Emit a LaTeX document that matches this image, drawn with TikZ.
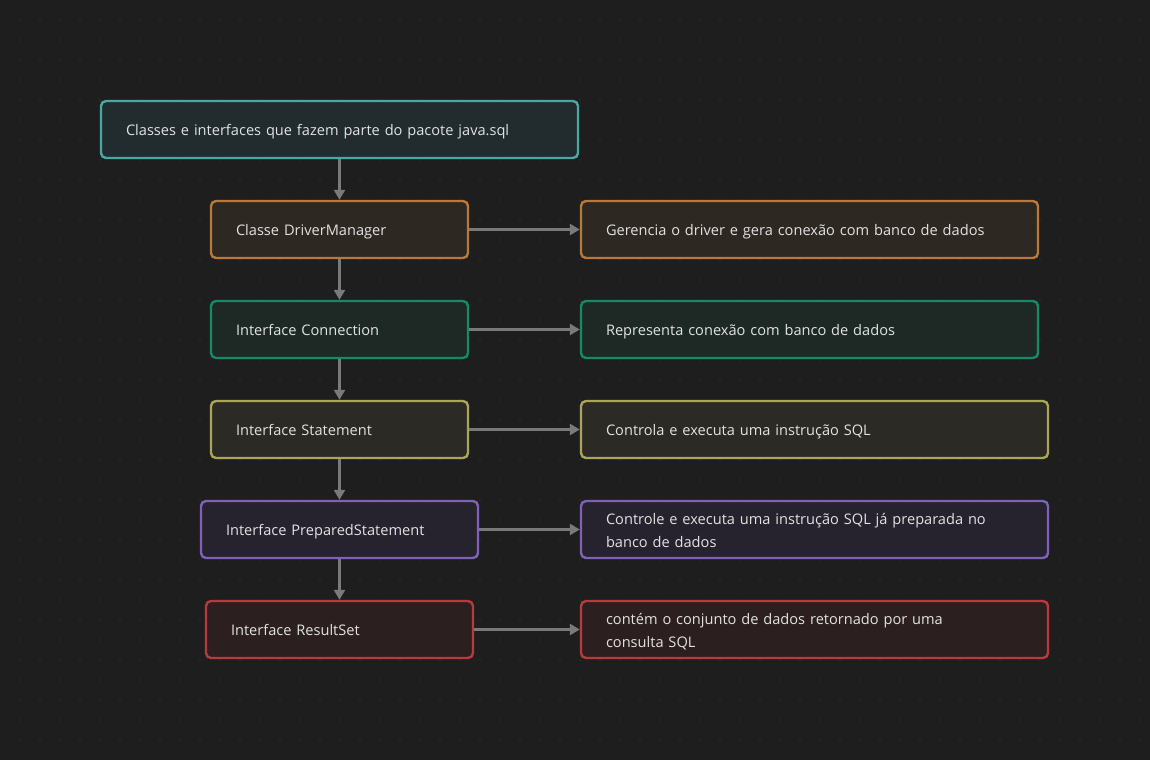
\documentclass[tikz,border=0pt]{standalone}
\usepackage{fontspec}
\setmainfont{Open Sans}
\usetikzlibrary{arrows.meta}

\definecolor{bg}{HTML}{1E1E1E}
\definecolor{griddot}{HTML}{303030}
\definecolor{txt}{HTML}{E2E2E2}
\definecolor{linkgray}{HTML}{7A7A7A}
\definecolor{tealB}{HTML}{4AA7A3}
\definecolor{tealF}{HTML}{222B2D}
\definecolor{orangeB}{HTML}{B87A3A}
\definecolor{orangeF}{HTML}{2D2822}
\definecolor{greenB}{HTML}{168A66}
\definecolor{greenF}{HTML}{1E2925}
\definecolor{oliveB}{HTML}{A9A65A}
\definecolor{oliveF}{HTML}{2B2A24}
\definecolor{purpleB}{HTML}{7F62B8}
\definecolor{purpleF}{HTML}{26232E}
\definecolor{redB}{HTML}{B83A3C}
\definecolor{redF}{HTML}{2C1F20}

\begin{document}
\begin{tikzpicture}[x=1pt,y=-1pt]
        \tikzstyle{box}=[line width=2.4pt, rounded corners=5pt, minimum height=57pt, inner xsep=25pt, inner ysep=0pt, align=left, text=txt, font=\fontsize{14.6}{23}\selectfont, text height=16pt, text depth=4pt]
        \tikzstyle{twolines}=[text depth=26pt]
        \tikzstyle{link}=[line width=2.4pt, draw=linkgray, -{Triangle[length=10pt,width=11pt]}]

        % background with dot grid
        \fill[bg] (0,0) rectangle (1150,760);
        \useasboundingbox (0,0) rectangle (1150,760);
        \foreach \x in {20,40,...,1140}
            \foreach \y in {20,40,...,740}
                \fill[griddot] (\x,\y) circle (0.9pt);

        % left column
        \node (pkg)[box, draw=tealB, fill=tealF, text width=427pt] at (339.5,129.5) {Classes e interfaces que fazem parte do pacote java.sql};
        \node (dm)[box, draw=orangeB, fill=orangeF, text width=207pt] at (339.5,229.5) {Classe DriverManager};
        \node (conn)[box, draw=greenB, fill=greenF, text width=207pt] at (339.5,329.5) {Interface Connection};
        \node (stmt)[box, draw=oliveB, fill=oliveF, text width=207pt] at (339.5,429.5) {Interface Statement};
        \node (pstmt)[box, draw=purpleB, fill=purpleF, text width=227pt] at (339.5,529.5) {Interface PreparedStatement};
        \node (rs)[box, draw=redB, fill=redF, text width=217pt] at (339.5,629.5) {Interface ResultSet};

        % right column
        \node (dmd)[box, draw=orangeB, fill=orangeF, text width=407pt] at (809.5,229.5) {Gerencia o driver e gera conexão com banco de dados};
        \node (connd)[box, draw=greenB, fill=greenF, text width=407pt] at (809.5,329.5) {Representa conexão com banco de dados};
        \node (stmtd)[box, draw=oliveB, fill=oliveF, text width=417pt] at (814.5,429.5) {Controla e executa uma instrução SQL};
        \node (pstmtd)[box, twolines, draw=purpleB, fill=purpleF, text width=417pt] at (814.5,529.5) {Controle e executa uma instrução SQL já preparada no\\banco de dados};
        \node (rsd)[box, twolines, draw=redB, fill=redF, text width=417pt] at (814.5,629.5) {contém o conjunto de dados retornado por uma\\consulta SQL};

        \draw[link] (pkg) -- (dm);
        \draw[link] (dm) -- (conn);
        \draw[link] (conn) -- (stmt);
        \draw[link] (stmt) -- (pstmt);
        \draw[link] (pstmt) -- (rs);

        \draw[link] (dm) -- (dmd);
        \draw[link] (conn) -- (connd);
        \draw[link] (stmt) -- (stmtd);
        \draw[link] (pstmt) -- (pstmtd);
        \draw[link] (rs) -- (rsd);
\end{tikzpicture}
\end{document}
